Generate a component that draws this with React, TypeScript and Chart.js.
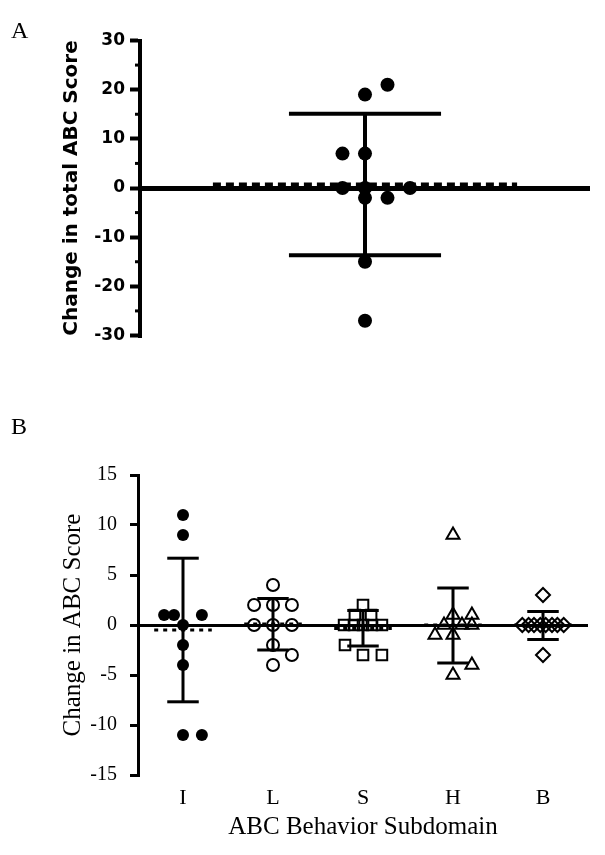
import React, { useEffect, useRef } from "react";
import { Chart, registerables } from "chart.js";

Chart.register(...registerables);

// ---------- Panel A: change in total ABC score ----------
const TOTAL_VALUES = [21, 19, 7, 7, 0, 0, 0, -2, -2, -15, -27];
const TOTAL_SLOTS = [0.1, 0, -0.1, 0, -0.1, 0, 0.2, 0, 0.1, 0, 0];
const TOTAL_MEAN = 0.7;
const TOTAL_UPPER = 15.1;
const TOTAL_LOWER = -13.7;
const TOTAL_TICKS = [-30, -20, -10, 0, 10, 20, 30];
const TOTAL_MINOR_TICKS = [-25, -15, -5, 5, 15, 25];

// ---------- Panel B: change by subdomain ----------
const SUBDOMAINS = ["I", "L", "S", "H", "B"];
const I_VALUES = [11, 9, 1, 1, 1, 0, -2, -4, -11, -11];
const I_SLOTS = [0, 0, -0.21, -0.1, 0.21, 0, 0, 0, 0, 0.21];
const L_VALUES = [4, 2, 2, 2, 0, 0, 0, -2, -3, -4];
const L_SLOTS = [0, -0.21, 0, 0.21, -0.21, 0, 0.21, 0, 0.21, 0];
const S_VALUES = [2, 1, 1, 0, 0, 0, 0, 0, -2, -3, -3];
const S_SLOTS = [0, -0.09, 0.09, -0.21, -0.1, 0, 0.1, 0.21, -0.2, 0, 0.21];
const H_VALUES = [9, 1, 1, 0, 0, 0, -1, -1, -4, -5];
const H_SLOTS = [0, 0, 0.21, -0.1, 0.1, 0.21, -0.2, 0, 0.21, 0];
const B_VALUES = [3, 0, 0, 0, 0, 0, 0, 0, 0, -3];
const B_SLOTS = [0, -0.23, -0.16, -0.1, -0.03, 0.03, 0.1, 0.16, 0.23, 0];
const SUB_MEANS = [-0.5, 0.1, -0.36, 0, 0];
const SUB_UPPER = [6.68, 2.65, 1.45, 3.7, 1.35];
const SUB_LOWER = [-7.68, -2.5, -2.1, -3.8, -1.45];
const SUB_TICKS = [-15, -10, -5, 0, 5, 10, 15];

const SERIF = "'Liberation Serif', 'Times New Roman', serif";
const SANS = "'DejaVu Sans', sans-serif";

function segment(x1: number, y1: number, x2: number, y2: number, width: number, dash: number[] = []) {
  return {
    data: [{ x: x1, y: y1 }, { x: x2, y: y2 }],
    showLine: true,
    borderColor: "#000",
    borderWidth: width,
    borderDash: dash,
    borderCapStyle: "butt",
    pointRadius: 0,
    pointHoverRadius: 0,
  };
}

const minorTicksPlugin = {
  id: "minorTicks",
  afterDraw(chart: any) {
    const s = chart.scales.y;
    const ctx = chart.ctx;
    ctx.save();
    ctx.strokeStyle = "#000";
    ctx.lineWidth = 3;
    for (const v of TOTAL_MINOR_TICKS) {
      const y = s.getPixelForValue(v);
      ctx.beginPath();
      ctx.moveTo(s.right - 5, y);
      ctx.lineTo(s.right, y);
      ctx.stroke();
    }
    ctx.restore();
  },
};

export default function App() {
  const aRef = useRef<HTMLCanvasElement>(null);
  const bRef = useRef<HTMLCanvasElement>(null);

  useEffect(() => {
    const chartA = new Chart(aRef.current as HTMLCanvasElement, {
      type: "scatter",
      data: {
        datasets: [
          {
            data: TOTAL_VALUES.map((v, i) => ({ x: 1 + TOTAL_SLOTS[i], y: v })),
            pointRadius: 7,
            pointStyle: "circle",
            pointBackgroundColor: "#000",
            pointBorderColor: "#000",
            pointBorderWidth: 0,
          },
          segment(1 - 0.676, TOTAL_MEAN, 1 + 0.676, TOTAL_MEAN, 4, [8, 5]),
          segment(1, TOTAL_LOWER, 1, TOTAL_UPPER, 4),
          segment(1 - 0.338, TOTAL_UPPER, 1 + 0.338, TOTAL_UPPER, 4),
          segment(1 - 0.338, TOTAL_LOWER, 1 + 0.338, TOTAL_LOWER, 4),
        ] as any,
      },
      options: {
        responsive: false,
        animation: false,
        events: [],
        layout: { padding: { top: 40.5, bottom: 24.5, left: 0, right: 15 } },
        plugins: { legend: { display: false }, tooltip: { enabled: false } },
        scales: {
          x: { type: "linear", min: 0, max: 2, display: false },
          y: {
            type: "linear",
            min: -30,
            max: 30,
            afterBuildTicks: (s: any) => {
              s.ticks = TOTAL_TICKS.map((v) => ({ value: v }));
            },
            afterFit: (s: any) => {
              s.width = 140;
            },
            border: { display: true, color: "#000", width: 4 },
            grid: {
              display: true,
              drawOnChartArea: true,
              drawTicks: true,
              color: (c: any) => (c.tick && c.tick.value === 0 ? "#000" : "rgba(0,0,0,0)"),
              lineWidth: 5,
              tickColor: "#000",
              tickWidth: 4,
              tickLength: 10,
            },
            ticks: { color: "#000", padding: 5, font: { family: SANS, size: 17, weight: "bold" } },
            title: {
              display: true,
              text: "Change in total ABC Score",
              color: "#000",
              font: { family: SANS, size: 20, weight: "bold" },
              padding: { top: 60, bottom: 0 },
            },
          },
        },
      } as any,
      plugins: [minorTicksPlugin],
    });

    const groups = [
      { values: I_VALUES, slots: I_SLOTS, style: "circle", radius: 6, fill: "#000", bw: 0 },
      { values: L_VALUES, slots: L_SLOTS, style: "circle", radius: 6, fill: "rgba(0,0,0,0)", bw: 2 },
      { values: S_VALUES, slots: S_SLOTS, style: "rect", radius: 7.5, fill: "rgba(0,0,0,0)", bw: 2 },
      { values: H_VALUES, slots: H_SLOTS, style: "triangle", radius: 7.5, fill: "rgba(0,0,0,0)", bw: 2 },
      { values: B_VALUES, slots: B_SLOTS, style: "rectRot", radius: 7, fill: "rgba(0,0,0,0)", bw: 2 },
    ];

    const pointSets = groups.map((g, i) => ({
      data: g.values.map((v, k) => ({ x: i + g.slots[k], y: v })),
      pointStyle: g.style,
      pointRadius: g.radius,
      pointBackgroundColor: g.fill,
      pointBorderColor: "#000",
      pointBorderWidth: g.bw,
    }));

    const barSets: any[] = [];
    SUBDOMAINS.forEach((_, i) => {
      barSets.push(segment(i - 0.32, SUB_MEANS[i], i + 0.32, SUB_MEANS[i], 3, [4, 5]));
      barSets.push(segment(i, SUB_LOWER[i], i, SUB_UPPER[i], 3));
      barSets.push(segment(i - 0.175, SUB_UPPER[i], i + 0.175, SUB_UPPER[i], 3));
      barSets.push(segment(i - 0.175, SUB_LOWER[i], i + 0.175, SUB_LOWER[i], 3));
    });

    const chartB = new Chart(bRef.current as HTMLCanvasElement, {
      type: "scatter",
      data: { datasets: [...pointSets, ...barSets] as any },
      options: {
        responsive: false,
        animation: false,
        events: [],
        layout: { padding: { top: 75, bottom: 0, left: 0, right: 17 } },
        plugins: { legend: { display: false }, tooltip: { enabled: false } },
        scales: {
          x: {
            type: "linear",
            min: -0.5,
            max: 4.5,
            afterBuildTicks: (s: any) => {
              s.ticks = SUBDOMAINS.map((_, i) => ({ value: i }));
            },
            afterFit: (s: any) => {
              s.height = 80;
            },
            border: { display: false },
            grid: { display: false, drawTicks: false },
            ticks: {
              color: "#000",
              padding: 10,
              autoSkip: false,
              maxRotation: 0,
              font: { family: SERIF, size: 22 },
              callback: (v: any) => SUBDOMAINS[v] ?? "",
            },
            title: {
              display: true,
              text: "ABC Behavior Subdomain",
              color: "#000",
              font: { family: SERIF, size: 25 },
              padding: { top: 1, bottom: 13 },
            },
          },
          y: {
            type: "linear",
            min: -15,
            max: 15,
            afterBuildTicks: (s: any) => {
              s.ticks = SUB_TICKS.map((v) => ({ value: v }));
            },
            afterFit: (s: any) => {
              s.width = 138;
            },
            border: { display: true, color: "#000", width: 3 },
            grid: {
              display: true,
              drawOnChartArea: true,
              drawTicks: true,
              color: (c: any) => (c.tick && c.tick.value === 0 ? "#000" : "rgba(0,0,0,0)"),
              lineWidth: 3,
              tickColor: "#000",
              tickWidth: 3,
              tickLength: 8,
            },
            ticks: { color: "#000", padding: 13, font: { family: SERIF, size: 20 } },
            title: {
              display: true,
              text: "Change in ABC Score",
              color: "#000",
              font: { family: SERIF, size: 25 },
              padding: { top: 58, bottom: 0 },
            },
          },
        },
      } as any,
    });

    return () => {
      chartA.destroy();
      chartB.destroy();
    };
  }, []);

  const letter: React.CSSProperties = {
    position: "absolute",
    left: 11,
    fontFamily: SERIF,
    fontSize: 24,
    lineHeight: "24px",
    color: "#000",
  };

  return (
    <div style={{ position: "absolute", left: 0, top: 0, width: 605, height: 855, background: "#fff" }}>
      <canvas ref={aRef} width={605} height={360} style={{ position: "absolute", left: 0, top: 0 }} />
      <canvas ref={bRef} width={605} height={455} style={{ position: "absolute", left: 0, top: 400 }} />
      <span style={{ ...letter, top: 18 }}>A</span>
      <span style={{ ...letter, top: 414 }}>B</span>
    </div>
  );
}
